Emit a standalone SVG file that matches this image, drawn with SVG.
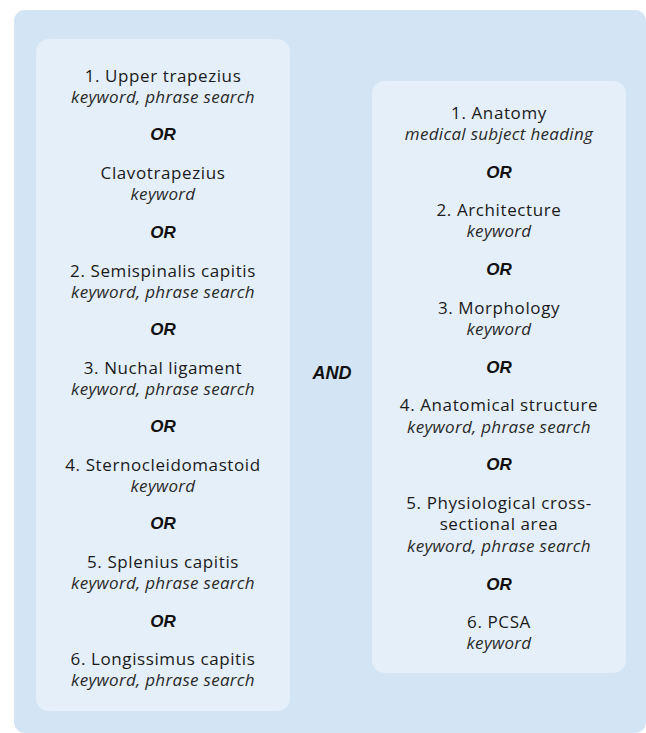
<svg xmlns="http://www.w3.org/2000/svg" width="646" height="733" viewBox="0 0 646 733">
<style>
.t{font-family:"Open Sans","Liberation Sans",sans-serif;font-size:17px;letter-spacing:0.6px;fill:#1a1a1a;text-anchor:middle}
.k{font-family:"Open Sans","Liberation Sans",sans-serif;font-size:17px;font-style:italic;letter-spacing:0.3px;fill:#2a2a2a;text-anchor:middle}
.o{font-family:"Liberation Sans",Arial,sans-serif;font-size:17px;font-style:italic;font-weight:bold;fill:#111;text-anchor:middle}
.panel{fill:#e4eff9}
</style>
<rect x="14" y="10" width="632" height="723" rx="11" fill="#d3e5f4"/>
<g id="left">
<rect class="panel" x="36" y="39" width="254" height="672" rx="13"/>
<text class="t" x="163" y="82">1. Upper trapezius</text>
<text class="k" x="163" y="103">keyword, phrase search</text>
<text class="o" x="163" y="140">OR</text>
<text class="t" x="163" y="179">Clavotrapezius</text>
<text class="k" x="163" y="200">keyword</text>
<text class="o" x="163" y="238">OR</text>
<text class="t" x="163" y="277">2. Semispinalis capitis</text>
<text class="k" x="163" y="298">keyword, phrase search</text>
<text class="o" x="163" y="335">OR</text>
<text class="t" x="163" y="374">3. Nuchal ligament</text>
<text class="k" x="163" y="395">keyword, phrase search</text>
<text class="o" x="163" y="432">OR</text>
<text class="t" x="163" y="471">4. Sternocleidomastoid</text>
<text class="k" x="163" y="492">keyword</text>
<text class="o" x="163" y="529">OR</text>
<text class="t" x="163" y="568">5. Splenius capitis</text>
<text class="k" x="163" y="589">keyword, phrase search</text>
<text class="o" x="163" y="627">OR</text>
<text class="t" x="163" y="665">6. Longissimus capitis</text>
<text class="k" x="163" y="686">keyword, phrase search</text>
</g>
<g id="and">
<text class="o" x="332" y="379" style="font-size:18px">AND</text>
</g>
<g id="right">
<rect class="panel" x="372" y="81" width="254" height="592" rx="13"/>
<text class="t" x="499" y="119">1. Anatomy</text>
<text class="k" x="499" y="140">medical subject heading</text>
<text class="o" x="499" y="178">OR</text>
<text class="t" x="499" y="216">2. Architecture</text>
<text class="k" x="499" y="237">keyword</text>
<text class="o" x="499" y="275">OR</text>
<text class="t" x="499" y="314">3. Morphology</text>
<text class="k" x="499" y="335">keyword</text>
<text class="o" x="499" y="373">OR</text>
<text class="t" x="499" y="411">4. Anatomical structure</text>
<text class="k" x="499" y="433">keyword, phrase search</text>
<text class="o" x="499" y="470">OR</text>
<text class="t" x="499" y="509">5. Physiological cross-</text>
<text class="t" x="499" y="530">sectional area</text>
<text class="k" x="499" y="552">keyword, phrase search</text>
<text class="o" x="499" y="590">OR</text>
<text class="t" x="499" y="628">6. PCSA</text>
<text class="k" x="499" y="649">keyword</text>
</g>
</svg>
